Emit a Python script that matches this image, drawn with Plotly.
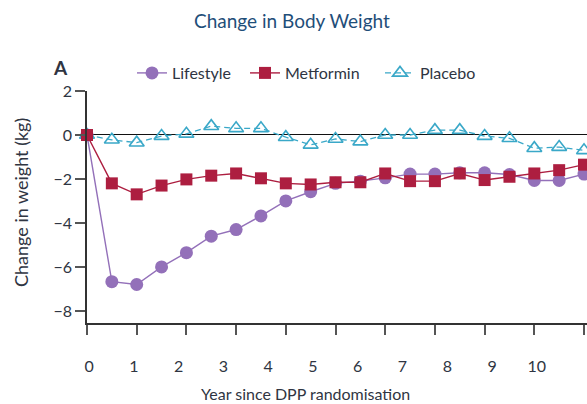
import plotly.graph_objects as go

years = [i * 0.5 for i in range(21)]
lifestyle = [0, -6.67, -6.8, -6.0, -5.35, -4.6, -4.3, -3.68, -3.0, -2.58, -2.2,
             -2.1, -1.95, -1.78, -1.78, -1.72, -1.72, -1.8, -2.07, -2.07, -1.78]
metformin = [0, -2.2, -2.7, -2.3, -2.02, -1.85, -1.75, -1.97, -2.2, -2.25, -2.15,
             -2.15, -1.75, -2.1, -2.1, -1.75, -2.05, -1.9, -1.75, -1.6, -1.35]
placebo = [0, -0.22, -0.35, -0.05, 0.05, 0.4, 0.3, 0.3, -0.1, -0.45, -0.18,
           -0.3, 0, 0, 0.22, 0.22, -0.05, -0.15, -0.6, -0.55, -0.7]
tick_years = list(range(11))
year_labels = [str(i) for i in range(11)]
y_ticks = [2, 0, -2, -4, -6, -8]

C_LIFE = "#9370B9"
C_MET = "#AD1E40"
C_PLA = "#3AA8C8"
TXT = "#2F3542"
FONT = "Lato"

fig = go.Figure()
fig.add_trace(go.Scatter(
    x=years, y=lifestyle, name="Lifestyle", mode="lines+markers",
    line=dict(color=C_LIFE, width=1.4),
    marker=dict(symbol="circle", size=13, color=C_LIFE),
    cliponaxis=False, legend="legend"))
fig.add_trace(go.Scatter(
    x=years, y=placebo, name="Placebo", mode="lines+markers",
    line=dict(color=C_PLA, width=1.3, dash="6px,4px"),
    marker=dict(symbol="triangle-up-open", size=13, color=C_PLA, line=dict(width=1.6)),
    cliponaxis=False, legend="legend3"))
fig.add_trace(go.Scatter(
    x=years, y=metformin, name="Metformin", mode="lines+markers",
    line=dict(color=C_MET, width=1.4),
    marker=dict(symbol="square", size=12, color=C_MET),
    cliponaxis=False, legend="legend2"))
# empty carrier trace so the label axis is drawn
fig.add_trace(go.Scatter(
    x=tick_years, y=[None] * len(tick_years), xaxis="x2", yaxis="y",
    mode="markers", showlegend=False, hoverinfo="skip"))

leg_common = dict(orientation="h", xanchor="left", y=1 + 18 / 232, yanchor="middle",
                  font=dict(size=16, color=TXT), bgcolor="rgba(0,0,0,0)")

fig.update_layout(
    width=587, height=404,
    margin=dict(l=87, r=0, t=91, b=81),
    paper_bgcolor="white", plot_bgcolor="white",
    font=dict(family=FONT, size=14, color=TXT),
    showlegend=True,
    legend=dict(x=(132 - 87) / 500, **leg_common),
    legend2=dict(x=(245 - 87) / 500, **leg_common),
    legend3=dict(x=(380 - 87) / 500, **leg_common),
    xaxis=dict(range=[0, 10.06], showgrid=False, zeroline=False,
               showline=True, linecolor="#333333", linewidth=1.5,
               ticks="outside", tickvals=tick_years, ticklen=10, tickwidth=1.5,
               tickcolor="#555555", showticklabels=False),
    xaxis2=dict(overlaying="x", anchor="y", side="bottom",
                range=[-0.045, 11.12], showgrid=False, zeroline=False, showline=False,
                tickvals=tick_years, ticktext=year_labels,
                ticks="outside", ticklen=29, tickcolor="rgba(0,0,0,0)",
                tickfont=dict(size=16, color=TXT)),
    yaxis=dict(range=[-8.55, 2], showgrid=False,
               zeroline=True, zerolinecolor="#111111", zerolinewidth=1.4,
               showline=True, linecolor="#333333", linewidth=1.5,
               ticks="outside", tickvals=y_ticks, ticklen=10, tickwidth=1.5,
               tickcolor="#555555", tickfont=dict(size=16, color=TXT)),
    annotations=[
        dict(text="Change in Body Weight", xref="paper", yref="paper",
             x=(292 - 87) / 500, y=1 + (91 - 20) / 232, xanchor="center", yanchor="middle",
             showarrow=False, font=dict(size=19, color="#1F4E79", family=FONT)),
        dict(text="<b>A</b>", xref="paper", yref="paper",
             x=(60 - 87) / 500, y=1 + (91 - 67) / 232, xanchor="center", yanchor="middle",
             showarrow=False, font=dict(size=19, color=TXT, family=FONT)),
        dict(text="Change in weight (kg)", xref="paper", yref="paper",
             x=(21 - 87) / 500, y=(323 - 203) / 232, xanchor="center", yanchor="middle",
             textangle=-90, showarrow=False, font=dict(size=18, color=TXT, family=FONT)),
        dict(text="Year since DPP randomisation", xref="paper", yref="paper",
             x=(305 - 87) / 500, y=-(394 - 323) / 232, xanchor="center", yanchor="middle",
             showarrow=False, font=dict(size=16, color=TXT, family=FONT)),
    ],
)

fig.write_html("out.html", config={"displayModeBar": False},
               post_script="document.body.style.margin='0';document.body.style.padding='0';")
